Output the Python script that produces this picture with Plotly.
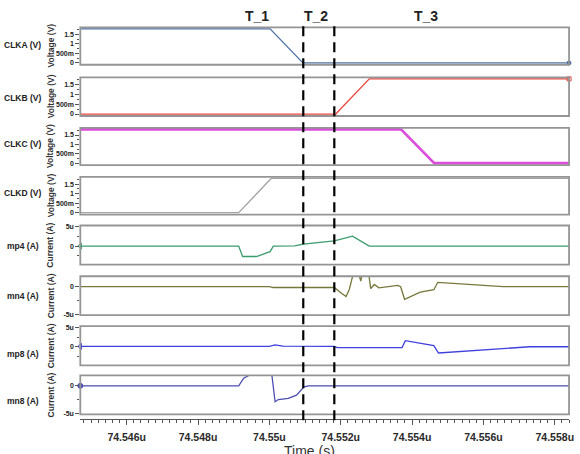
import plotly.graph_objects as go

W, H = 580, 454

# ---------------- data (time in microseconds) ----------------
x_range = [74.5447, 74.5584]
x_tick_vals = [74.546, 74.548, 74.550, 74.552, 74.554, 74.556, 74.558]
x_tick_text = ["74.546u", "74.548u", "74.55u", "74.552u", "74.554u", "74.556u", "74.558u"]

t_clka = [74.5447, 74.55002, 74.55094, 74.5584]
v_clka = [1.8, 1.8, 0.0, 0.0]
t_clkb = [74.5447, 74.55186, 74.5528, 74.5584]
v_clkb = [0.0, 0.0, 1.8, 1.8]
t_clkc = [74.5447, 74.55369, 74.55462, 74.5584]
v_clkc = [1.8, 1.8, 0.0, 0.0]
t_clkd = [74.5447, 74.54914, 74.55005, 74.5584]
v_clkd = [0.0, 0.0, 1.8, 1.8]

t_mp4 = [74.5447, 74.54914, 74.54925, 74.54964, 74.55002, 74.55011, 74.55071,
         74.55095, 74.55182, 74.55233, 74.5528, 74.5584]
i_mp4 = [0.0, 0.0, -2.7, -2.7, -1.45, 0.0, 0.05, 0.5, 1.35, 2.55, 0.0, 0.0]

t_mn4 = [74.5447, 74.5500, 74.5501, 74.55182, 74.55200, 74.55215, 74.55224, 74.55232,
         74.55236, 74.55250, 74.55256, 74.55261, 74.55278, 74.55284, 74.55294, 74.55307,
         74.55344, 74.55360, 74.55368, 74.55379, 74.55423, 74.55461, 74.55472, 74.55655,
         74.5584]
i_mn4 = [0.0, 0.0, -0.15, -0.15, -1.1, -1.8, -0.5, 1.7,
         2.6, 2.6, 1.0, 2.6, 2.6, -0.35, 0.4, -0.2,
         0.05, 0.25, 0.0, -2.3, -1.0, -0.55, 0.8, 0.0,
         0.0]

t_mp8 = [74.5447, 74.5500, 74.55016, 74.55038, 74.55182, 74.5519, 74.55372, 74.55381,
         74.55461, 74.55474, 74.5573, 74.5584]
i_mp8 = [0.1, 0.1, 0.5, 0.15, 0.1, -0.2, -0.2, 1.55, 0.3, -1.6, 0.0, 0.0]

t_mn8 = [74.5447, 74.54914, 74.54928, 74.54942, 74.54951, 74.54960, 74.55006, 74.55016,
         74.55025, 74.55053, 74.55076, 74.55097, 74.5511, 74.5519, 74.5520, 74.5522, 74.5584]
i_mn8 = [0.0, 0.0, 1.4, 1.8, 2.0, 2.5, 2.5, -2.9,
         -2.5, -2.3, -1.7, -0.2, 0.0, 0.0, 0.12, 0.0, 0.0]

dash_times = [74.55095, 74.55182]
phase_labels = ["T_1", "T_2", "T_3"]
phase_times = [74.54965, 74.5513, 74.5544]

v_tick_vals = [0, 0.5, 1, 1.5]
v_tick_text = ["0", "500m", "1", "1.5"]
ip_tick_vals = [0, 5]
ip_tick_text = ["0", "5u"]
in_tick_vals = [-5, 0]
in_tick_text = ["-5u", "0"]

names = ["CLKA (V)", "CLKB (V)", "CLKC (V)", "CLKD (V)", "mp4 (A)", "mn4 (A)", "mp8 (A)", "mn8 (A)"]
series_t = [t_clka, t_clkb, t_clkc, t_clkd, t_mp4, t_mn4, t_mp8, t_mn8]
series_v = [v_clka, v_clkb, v_clkc, v_clkd, i_mp4, i_mn4, i_mp8, i_mn8]

# ---------------- styling / layout ----------------
colors = ["#4f72a8", "#e8463c", "#dd4ddd", "#a3a3a3", "#3a9b6c", "#77773c", "#3f40df", "#4b4cb2"]
widths = [1.3, 1.3, 2.6, 1.3, 1.3, 1.3, 1.3, 1.3]
panels_px = [(25.5, 63.3), (76, 115), (127, 164.5), (176.5, 214.5),
             (225.5, 265), (276.7, 316), (327, 366.7), (376.7, 416)]
label_y_px = [43, 97, 143, 193, 246, 297, 355, 403]
X0, X1 = 81, 574
FONT = "Liberation Sans, Arial, sans-serif"

def py(p):
    return 1 - p / H

fig = go.Figure()
layout = dict(width=W, height=H, autosize=False, margin=dict(l=0, r=0, t=0, b=0),
              paper_bgcolor="white", plot_bgcolor="white", showlegend=False)
shapes = []
annotations = []

for i in range(8):
    k = "" if i == 0 else str(i + 1)
    top, bot = panels_px[i]
    fig.add_trace(go.Scatter(x=series_t[i], y=series_v[i], mode="lines",
                             line=dict(color=colors[i], width=widths[i]),
                             xaxis="x" + k, yaxis="y" + k, hoverinfo="skip"))
    if i < 4:
        yr = [-0.1, 1.88]
        tv, tt, mdt, ytitle = v_tick_vals, v_tick_text, 0.25, "Voltage (V)"
    elif i in (4, 6):
        yr = [-4.8, 5.3]
        tv, tt, mdt, ytitle = ip_tick_vals, ip_tick_text, 2.5, "Current (A)"
    else:
        yr = [-5.2, 1.9]
        tv, tt, mdt, ytitle = in_tick_vals, in_tick_text, 2.5, "Current (A)"

    xa = dict(domain=[X0 / W, X1 / W], range=x_range, showgrid=False, zeroline=False,
              showline=False, showticklabels=False, ticks="", fixedrange=True,
              anchor="y" + k)
    if i == 7:
        xa.update(anchor="free", position=py(421), showline=True, linecolor="#555",
                  linewidth=1, ticks="outside", ticklen=5, tickcolor="#555",
                  tickmode="array", tickvals=x_tick_vals, ticktext=x_tick_text,
                  showticklabels=True, ticklabelstandoff=3,
                  tickfont=dict(family=FONT, size=10.5, color="#2a2a2a", weight="bold"),
                  minor=dict(ticks="outside", ticklen=3, tickmode="linear",
                             tick0=74.546, dtick=0.0002, tickcolor="#555"))
    layout["xaxis" + k] = xa
    layout["yaxis" + k] = dict(domain=[py(bot), py(top)], range=yr, anchor="x" + k,
                               showgrid=False, zeroline=False, showline=False,
                               ticks="outside", ticklen=4, tickcolor="#555",
                               tickmode="array", tickvals=tv, ticktext=tt,
                               tickfont=dict(family=FONT, size=7, color="#222", weight="bold"),
                               minor=dict(ticks="outside", ticklen=2, tickmode="linear",
                                          tick0=0, dtick=mdt, tickcolor="#555"),
                               fixedrange=True)
    shapes.append(dict(type="rect", xref="paper", yref="paper", x0=X0 / W, x1=X1 / W,
                       y0=py(bot), y1=py(top), line=dict(color="#959595", width=1.8),
                       layer="above"))
    annotations.append(dict(xref="paper", yref="paper", x=23 / W, y=py(label_y_px[i]),
                            text=names[i], showarrow=False, xanchor="center", yanchor="middle",
                            font=dict(family=FONT, size=8.5, color="#222", weight="bold")))
    annotations.append(dict(xref="paper", yref="paper", x=51 / W, y=py((top + bot) / 2),
                            text=ytitle, showarrow=False, textangle=-90,
                            xanchor="center", yanchor="middle",
                            font=dict(family=FONT, size=8.5, color="#333", weight="bold")))

# end markers (simulator waveform markers)
for i, sym in [(4, "triangle-left-open"), (6, "triangle-left-open"), (7, "circle")]:
    k = "" if i == 0 else str(i + 1)
    fig.add_trace(go.Scatter(x=series_t[i][:1], y=series_v[i][:1], mode="markers",
                             marker=dict(symbol=sym, size=5, color=colors[i],
                                         line=dict(color=colors[i], width=1)),
                             cliponaxis=False, xaxis="x" + k, yaxis="y" + k, hoverinfo="skip"))
for i, sym in [(0, "circle"), (1, "square-open")]:
    k = "" if i == 0 else str(i + 1)
    fig.add_trace(go.Scatter(x=series_t[i][-1:], y=series_v[i][-1:], mode="markers",
                             marker=dict(symbol=sym, size=4, color=colors[i],
                                         line=dict(color=colors[i], width=1)),
                             cliponaxis=False, xaxis="x" + k, yaxis="y" + k, hoverinfo="skip"))

for t in dash_times:
    shapes.append(dict(type="line", xref="x", yref="paper", x0=t, x1=t,
                       y0=py(422), y1=py(24), line=dict(color="black", width=2.2, dash="10px,6px"),
                       layer="above"))

for lab, t in zip(phase_labels, phase_times):
    annotations.append(dict(xref="x", yref="paper", x=t, y=py(14), text=lab, showarrow=False,
                            xanchor="center", yanchor="middle",
                            font=dict(family=FONT, size=14, color="#222", weight="bold")))

annotations.append(dict(xref="paper", yref="paper", x=312 / W, y=py(443), text="Time (s)",
                        showarrow=False, xanchor="center", yanchor="top",
                        font=dict(family=FONT, size=14, color="#333")))

layout["shapes"] = shapes
layout["annotations"] = annotations
fig.update_layout(**layout)
fig.write_html("out.html")
